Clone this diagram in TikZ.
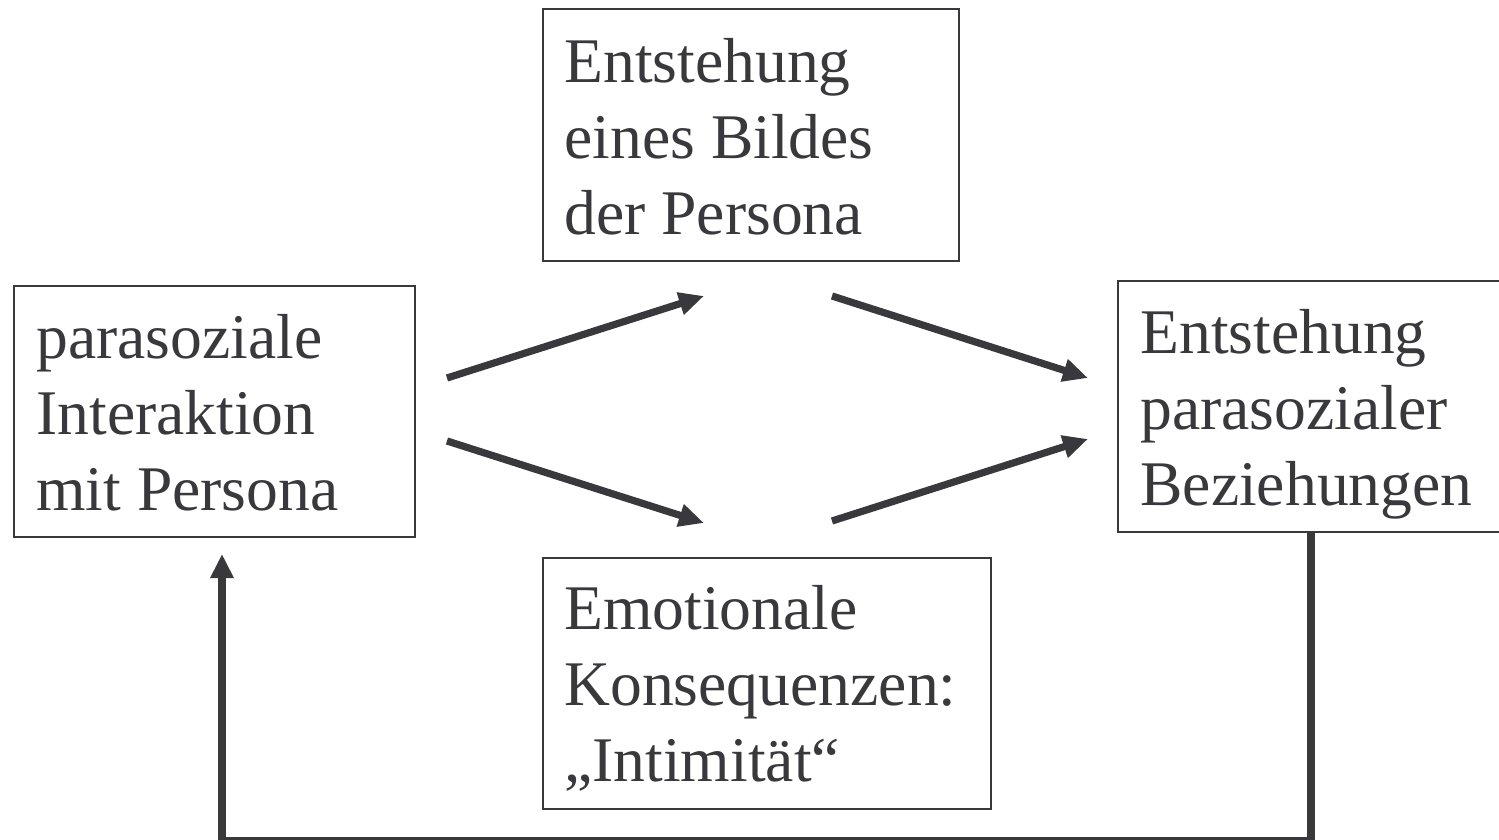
\documentclass[tikz,border=0pt]{standalone}
\usepackage{fontspec}
\setmainfont{Liberation Serif}
\usetikzlibrary{arrows.meta}
\definecolor{ink}{HTML}{39383D}
\tikzset{
  box/.style={draw=ink, line width=1pt, inner sep=0pt},
  txt/.style={anchor=base west, inner sep=0pt, align=left, text=ink,
    font=\fontsize{31.8pt}{38pt}\selectfont},
  bigarrow/.style={draw=ink, line width=3.6pt, -{Triangle[length=12.5pt,width=11pt]}},
  backarrow/.style={draw=ink, line width=3.8pt, -{Triangle[length=12pt,width=11pt]}},
}
\begin{document}
\begin{tikzpicture}[x=0.5pt,y=-0.5pt]
\useasboundingbox (0,0) rectangle (1499,840);
% boxes
\node[box, minimum width=200.5pt, minimum height=125.5pt] (L) at (214.5,411.5) {};
\node[box, minimum width=208pt, minimum height=126pt] (T) at (751,135) {};
\node[box, minimum width=196pt, minimum height=125.5pt] (R) at (1314,406.5) {};
\node[box, minimum width=224pt, minimum height=125.5pt] (B) at (767,683.5) {};
% texts (anchored at the baseline of the last line)
\node[txt] (Lt) at (36,510) {parasoziale\\Interaktion\\mit Persona};
\node[txt] (Tt) at (564,234) {Entstehung\\eines Bildes\\der Persona};
\node[txt] (Rt) at (1140,505) {Entstehung\\parasozialer\\Beziehungen};
\node[txt] (Bt) at (564,781) {Emotionale\\Konsequenzen:\\„Intimität“};
% arrow endpoints
\coordinate (a1s) at (447,378);
\coordinate (a1e) at (704,296);
\coordinate (a2s) at (832,296);
\coordinate (a2e) at (1088,378);
\coordinate (a3s) at (447,441);
\coordinate (a3e) at (704,523);
\coordinate (a4s) at (832,521);
\coordinate (a4e) at (1088,439);
\draw[bigarrow] (a1s) -- (a1e);
\draw[bigarrow] (a2s) -- (a2e);
\draw[bigarrow] (a3s) -- (a3e);
\draw[bigarrow] (a4s) -- (a4e);
% feedback
\coordinate (fb1) at (1311,841);
\coordinate (fb2) at (222,841);
\draw[backarrow] (R.south -| fb1) -- (fb1) -- (fb2) -- ([yshift=-8pt]L.south -| fb2);
\end{tikzpicture}
\end{document}
